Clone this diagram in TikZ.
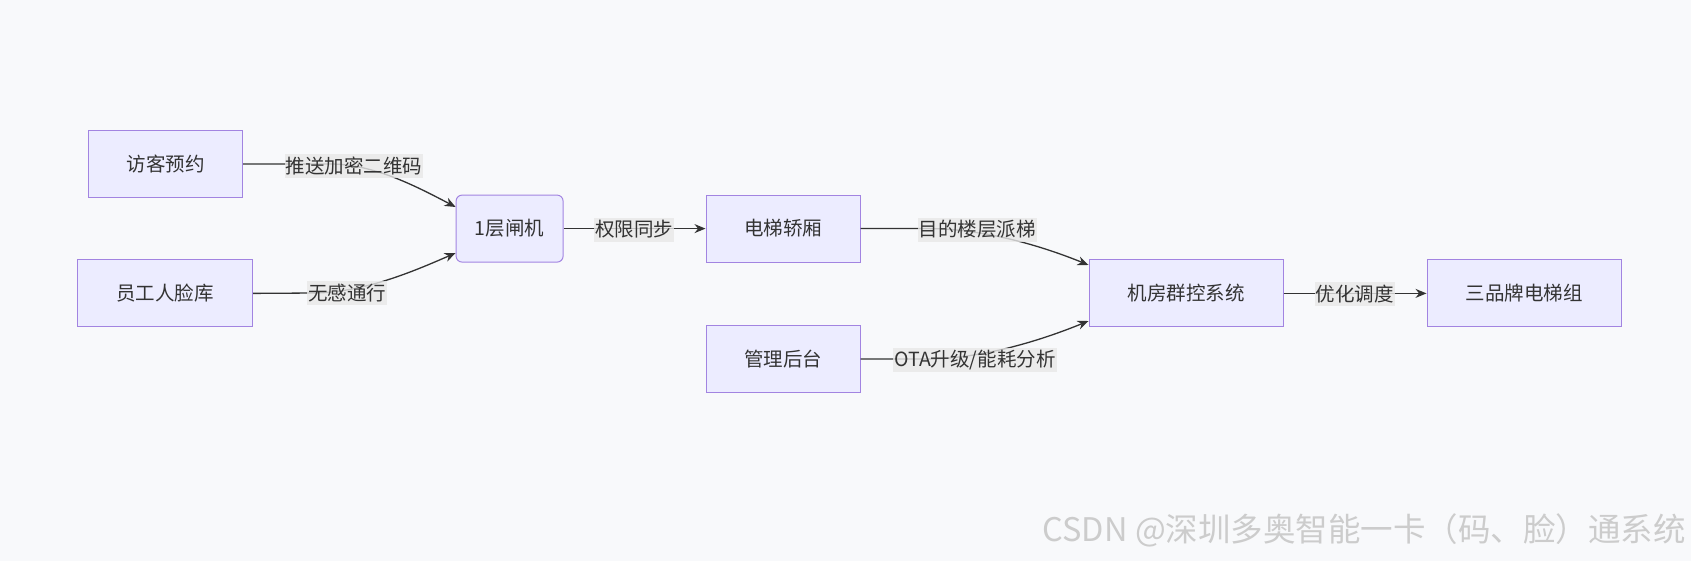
\documentclass[tikz,border=0pt]{standalone}
\usepackage{fontspec}
\setmainfont{Noto Sans CJK SC}
\usetikzlibrary{arrows.meta,calc}
\definecolor{bg}{RGB}{248,249,251}
\definecolor{boxfill}{RGB}{236,236,255}
\definecolor{boxdraw}{RGB}{162,132,225}
\definecolor{ink}{RGB}{51,51,51}
\definecolor{lblbg}{RGB}{232,232,232}
\definecolor{wmgray}{RGB}{204,204,204}
\begin{document}
\begin{tikzpicture}[x=1pt,y=-1pt,
  box/.style={draw=boxdraw, fill=boxfill, line width=1pt, minimum height=67pt, text=ink, font=\fontsize{19.5}{22}\selectfont, inner sep=0pt},
  lbl/.style={fill=lblbg, fill opacity=0.8, text opacity=1, text=ink, font=\fontsize{19.5}{22}\selectfont, inner xsep=1pt, inner ysep=2pt, minimum height=24pt},
  conn/.style={draw=ink, line width=1.3pt, -{Stealth[length=11pt,width=9pt]}},
]
\fill[bg] (0,0) rectangle (1691,561);
\useasboundingbox (0,0) rectangle (1691,561);

\node[box, minimum width=154pt] (visit) at (165.5,164) {访客预约};
\node[box, minimum width=175pt] (staff) at (165,293.4) {员工人脸库};
\node[box, minimum width=107pt, rounded corners=6pt] (gate) at (509.6,228.6) {1层闸机};
\node[box, minimum width=154pt] (car) at (783,228.6) {电梯轿厢};
\node[box, minimum width=154pt] (admin) at (783,359) {管理后台};
\node[box, minimum width=194pt] (group) at (1186,293.4) {机房群控系统};
\node[box, minimum width=194pt] (lifts) at (1524,293.4) {三品牌电梯组};

\coordinate (v1) at (330,164);
\coordinate (s1) at (315,293);
\coordinate (c1) at (930,228.6);
\coordinate (a1) at (930,359);

\draw[conn] (visit.east) -- (v1) .. controls (372,164) and (412,184) .. ($(gate.west)+(0,-21.6)$);
\draw[conn] (staff.east) -- (s1) .. controls (365,292) and (412,272) .. ($(gate.west)+(0,24.4)$);
\draw[conn] (gate.east) -- (car.west);
\draw[conn] (car.east) -- (c1) .. controls (985,229) and (1042,246) .. ($(group.west)+(0,-28.4)$);
\draw[conn] (admin.east) -- (a1) .. controls (985,358) and (1042,340) .. ($(group.west)+(0,27.6)$);
\draw[conn] (group.east) -- (lifts.west);

\node[lbl] (l1) at (354,166) {推送加密二维码};
\node[lbl] (l2) at (347,293) {无感通行};
\node[lbl] (l3) at (634,229.6) {权限同步};
\node[lbl] (l4) at (977,229.6) {目的楼层派梯};
\node[lbl] (l5) at (975,360) {OTA升级/能耗分析};
\node[lbl] (l6) at (1354.5,294) {优化调度};

\node[anchor=east, text=wmgray, font=\fontsize{32.5}{36}\selectfont, inner sep=0pt] (wm) at (1686,530) {CSDN @深圳多奥智能一卡（码、脸）通系统};
\end{tikzpicture}
\end{document}
